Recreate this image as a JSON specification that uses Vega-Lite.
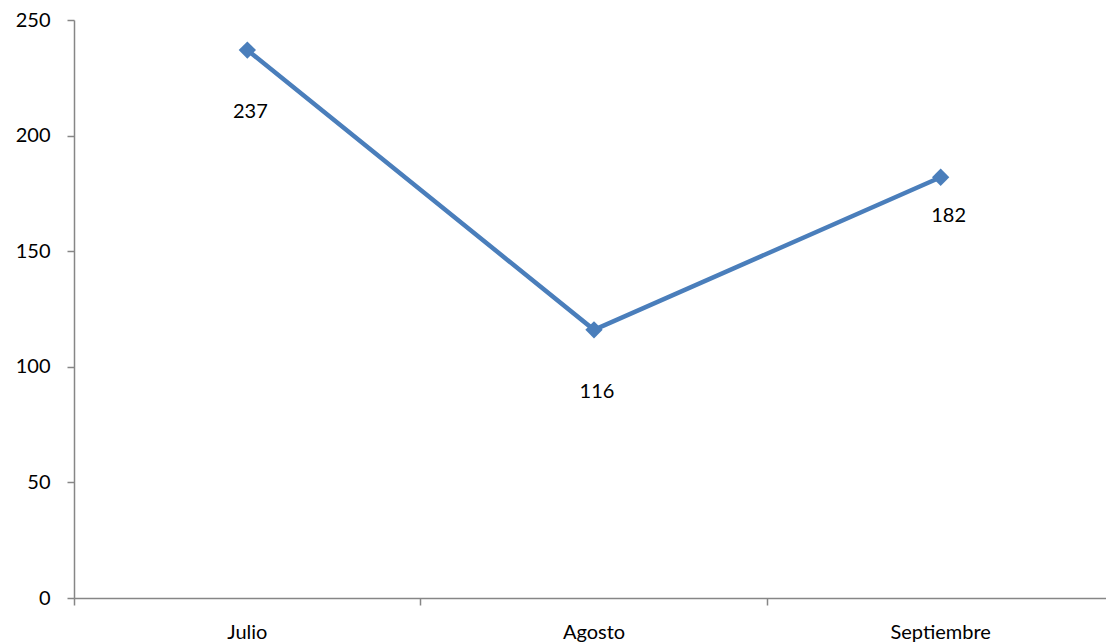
{
  "$schema": "https://vega.github.io/schema/vega-lite/v6.json",
  "width": 1040,
  "height": 578,
  "autosize": "none",
  "padding": {"left": 74, "top": 20, "right": 0, "bottom": 46},
  "background": "white",
  "config": {
    "view": {"stroke": null},
    "font": "Lato",
    "axis": {"grid": false, "domainColor": "#868686", "tickColor": "#868686", "labelColor": "black", "labelFontSize": 20, "labelFont": "Lato", "title": null, "domainWidth": 1.5, "tickWidth": 1.5}
  },
  "data": {"values": [
    {"mes": "Julio", "valor": 237},
    {"mes": "Agosto", "valor": 116},
    {"mes": "Septiembre", "valor": 182}
  ]},
  "encoding": {
    "x": {"field": "mes", "type": "nominal", "sort": null, "scale": {"type": "band", "paddingInner": 0, "paddingOuter": 0}, "axis": null},
    "y": {"field": "valor", "type": "quantitative", "scale": {"domain": [0, 250], "nice": false}, "axis": {"values": [0, 50, 100, 150, 200, 250], "tickSize": 7, "labelPadding": 17}}
  },
  "layer": [
    {
      "mark": {"type": "line", "color": "#4a7ebb", "strokeWidth": 4.5},
      "encoding": {"x": {"field": "mes", "type": "nominal", "sort": null, "axis": {"orient": "bottom", "ticks": false, "domain": false, "labelPadding": 24, "labelAngle": 0}}}
    },
    {
      "mark": {"type": "point", "shape": "diamond", "filled": true, "color": "#4a7ebb", "size": 300, "opacity": 1},
      "encoding": {"x": {"field": "mes", "type": "nominal", "sort": null, "axis": {"orient": "bottom", "bandPosition": 0, "labels": false, "labelAngle": 0, "ticks": true, "tickSize": 7, "domain": true}}}
    },
    {
      "transform": [{"filter": "datum.mes !== 'Septiembre'"}],
      "mark": {"type": "text", "fontSize": 20, "color": "black", "dy": 62, "dx": 3},
      "encoding": {"text": {"field": "valor", "type": "quantitative"}}
    },
    {
      "transform": [{"filter": "datum.mes === 'Septiembre'"}],
      "mark": {"type": "text", "fontSize": 20, "color": "black", "dy": 39, "dx": 8},
      "encoding": {"text": {"field": "valor", "type": "quantitative"}}
    }
  ],
  "resolve": {"axis": {"x": "independent"}}
}
